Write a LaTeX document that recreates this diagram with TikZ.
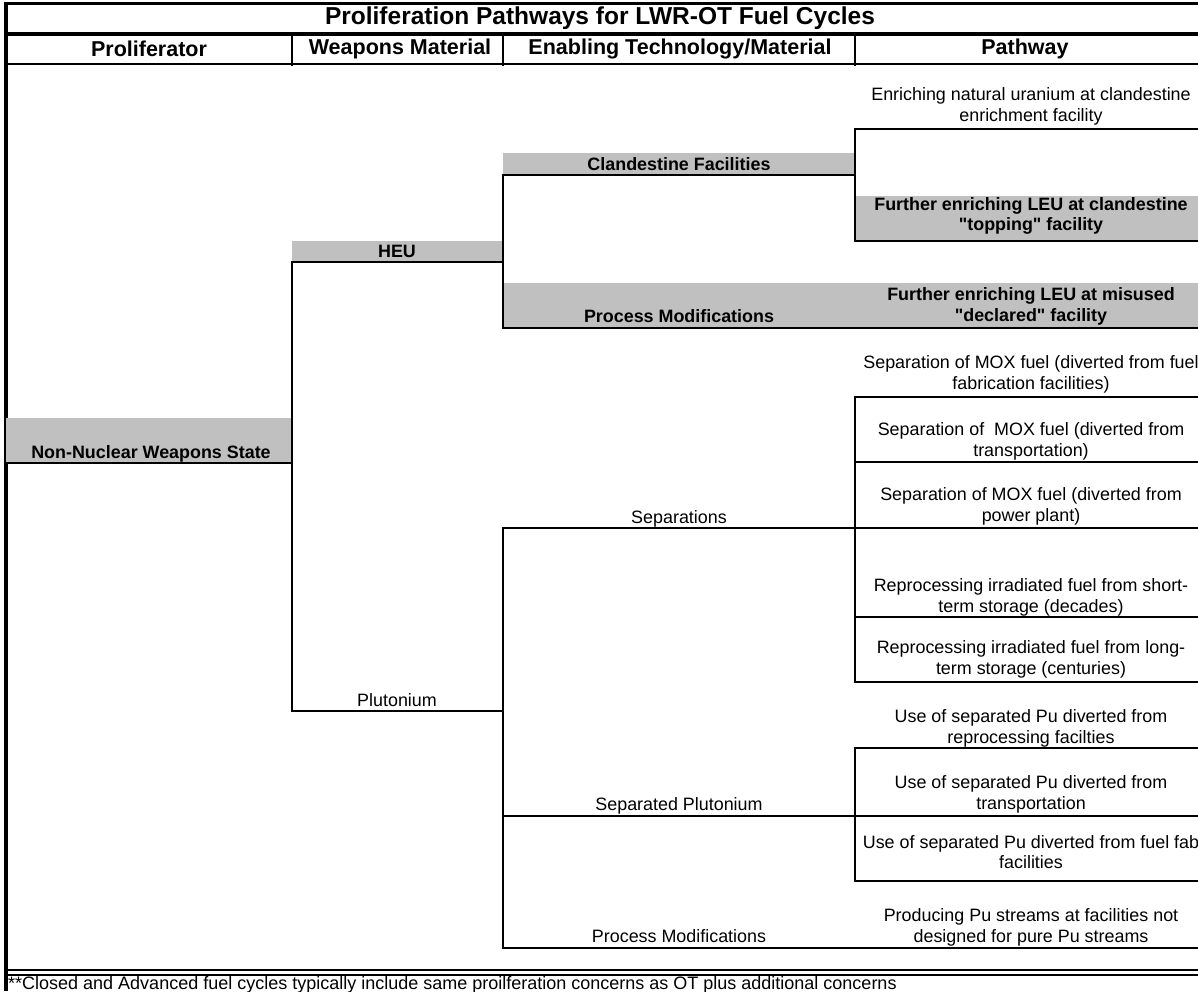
\documentclass[tikz,border=0pt]{standalone}
\usepackage{fontspec}
\newfontfamily\arialish{Liberation Sans}
\definecolor{xlgray}{RGB}{192,192,192}
\tikzset{
  cellbox/.style={rectangle, inner sep=0pt, outer sep=0pt, anchor=south west, draw=none},
  gcell/.style={cellbox, fill=xlgray},
  bodytext/.style={inner sep=0pt, align=center, font=\arialish\fontsize{17.9}{20.8}\selectfont},
  boldtext/.style={inner sep=0pt, align=center, font=\arialish\fontsize{17.9}{20.8}\selectfont\bfseries},
  foottext/.style={inner sep=0pt, font=\arialish\fontsize{18}{21}\selectfont},
  hdrtext/.style={inner sep=0pt, font=\arialish\fontsize{21.5}{24}\selectfont\bfseries},
  ttltext/.style={inner sep=0pt, font=\arialish\fontsize{24.5}{28}\selectfont\bfseries},
  branch/.style={line width=2.2pt, line cap=rect},
  frameline/.style={line width=3.2pt},
  midline/.style={line width=2.4pt},
  thinline/.style={line width=1.6pt},
}
\begin{document}
\begin{tikzpicture}[x=1pt,y=-1pt]
\useasboundingbox (0,0) rectangle (1198,991);
\fill[white] (0,0) rectangle (1198,991);

% ---- table frame ----
\draw[frameline] (4.4,3.5) -- (1198,3.5);
\draw[frameline] (6,2) -- (6,991);
\draw[frameline] (6,34) -- (1198,34);
\draw[midline] (6,64) -- (1198,64);
\draw[thinline] (292,34) -- (292,66);
\draw[thinline] (503,34) -- (503,66);
\draw[thinline] (855,34) -- (855,66);
\draw[thinline] (6,970) -- (1198,970);
\draw[thinline] (6,975) -- (1198,975);

% ---- title and headers ----
\node[ttltext] (title) at (600,18) {Proliferation Pathways for LWR-OT Fuel Cycles};
\node[hdrtext] (hA) at (149,49) {Proliferator};
\node[hdrtext] (hB) at (400,49) {Weapons Material};
\node[hdrtext] (hC) at (680,49) {Enabling Technology/Material};
\node[hdrtext] (hD) at (1025,49) {Pathway};

% ---- gray cells ----
\node[gcell, minimum width=286pt, minimum height=45pt] (nnwsBox) at (6,463) {};
\node[gcell, minimum width=211pt, minimum height=21pt] (heuBox) at (292,262) {};
\node[gcell, minimum width=352pt, minimum height=22pt] (clanBox) at (503,175) {};
\node[gcell, minimum width=343pt, minimum height=45pt] (p2Box) at (855,241) {};
\node[gcell, minimum width=695pt, minimum height=45pt] (pmhBox) at (503,328) {};

% ---- left labels ----
\node[boldtext, anchor=base] (nnws) at (151,458) {Non-Nuclear Weapons State};
\node[boldtext, anchor=base] (heu) at (397,257) {HEU};
\node[bodytext, anchor=base] (pu) at (397,706) {Plutonium};
\node[boldtext, anchor=base] (clan) at (679,170) {Clandestine Facilities};
\node[boldtext, anchor=base] (pmh) at (679,322) {Process Modifications};
\node[bodytext, anchor=base] (sep) at (679,523) {Separations};
\node[bodytext, anchor=base] (spu) at (679,810) {Separated Plutonium};
\node[bodytext, anchor=base] (pmp) at (679,942) {Process Modifications};

% ---- pathway texts ----
\node[bodytext] (p1) at (1031,106) {Enriching natural uranium at clandestine\\enrichment facility};
\node[boldtext] (p2) at (1031,216) {Further enriching LEU at clandestine\\"topping" facility};
\node[boldtext] (p3) at (1031,306) {Further enriching LEU at misused\\"declared" facility};
\node[bodytext] (p4) at (1031,374) {Separation of MOX fuel (diverted from fuel\\fabrication facilities)};
\node[bodytext] (p5) at (1031,441) {Separation of\ \ MOX fuel (diverted from\\transportation)};
\node[bodytext] (p6) at (1031,506) {Separation of MOX fuel (diverted from\\power plant)};
\node[bodytext] (p7) at (1031,597) {Reprocessing irradiated fuel from short-\\term storage (decades)};
\node[bodytext] (p8) at (1031,659) {Reprocessing irradiated fuel from long-\\term storage (centuries)};
\node[bodytext] (p9) at (1031,728) {Use of separated Pu diverted from\\reprocessing facilties};
\node[bodytext] (p10) at (1031,794) {Use of separated Pu diverted from\\transportation};
\node[bodytext] (p11) at (1031,852) {Use of separated Pu diverted from fuel fab\\facilities};
\node[bodytext] (p12) at (1031,927) {Producing Pu streams at facilities not\\designed for pure Pu streams};

\node[foottext, anchor=base west] (foot) at (8,989) {**Closed and Advanced fuel cycles typically include same proilferation concerns as OT plus additional concerns};

% ---- named line ends ----
\coordinate (puL) at (292,711);   \coordinate (puR) at (503,711);
\coordinate (sepL) at (503,528);  \coordinate (sepR) at (855,528);
\coordinate (spuL) at (503,816);  \coordinate (spuR) at (855,816);
\coordinate (pmpL) at (503,948);  \coordinate (pmpR) at (1198,948);
\coordinate (p1L) at (855,129);   \coordinate (p1R) at (1198,129);
\coordinate (p4L) at (855,397);   \coordinate (p4R) at (1198,397);
\coordinate (p5L) at (855,462);   \coordinate (p5R) at (1198,462);
\coordinate (p6R) at (1198,528);
\coordinate (p7L) at (855,617);   \coordinate (p7R) at (1198,617);
\coordinate (p8L) at (855,682);   \coordinate (p8R) at (1198,682);
\coordinate (p9L) at (855,748);   \coordinate (p9R) at (1198,748);
\coordinate (p10R) at (1198,816);
\coordinate (p11L) at (855,881);  \coordinate (p11R) at (1198,881);

% ---- tree connectors ----
\draw[branch] (nnwsBox.south west) -- (nnwsBox.south east);
\draw[branch] (heuBox.south west) -- (heuBox.south east);
\draw[branch] (puL) -- (puR);
\draw[branch] (heuBox.south west) -- (puL);

\draw[branch] (clanBox.south west) -- (clanBox.south east);
\draw[branch] (pmhBox.south west) -- (pmhBox.south east);
\draw[branch] (clanBox.south west) -- (pmhBox.south west);

\draw[branch] (sepL) -- (sepR);
\draw[branch] (spuL) -- (spuR);
\draw[branch] (pmpL) -- (pmpR);
\draw[branch] (sepL) -- (pmpL);

\draw[branch] (p1L) -- (p1R);
\draw[branch] (p2Box.south west) -- (p2Box.south east);
\draw[branch] (p1L) -- (p2Box.south west);

\draw[branch] (p4L) -- (p4R);
\draw[branch] (p5L) -- (p5R);
\draw[branch] (sepR) -- (p6R);
\draw[branch] (p7L) -- (p7R);
\draw[branch] (p8L) -- (p8R);
\draw[branch] (p4L) -- (p8L);

\draw[branch] (p9L) -- (p9R);
\draw[branch] (spuR) -- (p10R);
\draw[branch] (p11L) -- (p11R);
\draw[branch] (p9L) -- (p11L);
\end{tikzpicture}
\end{document}
